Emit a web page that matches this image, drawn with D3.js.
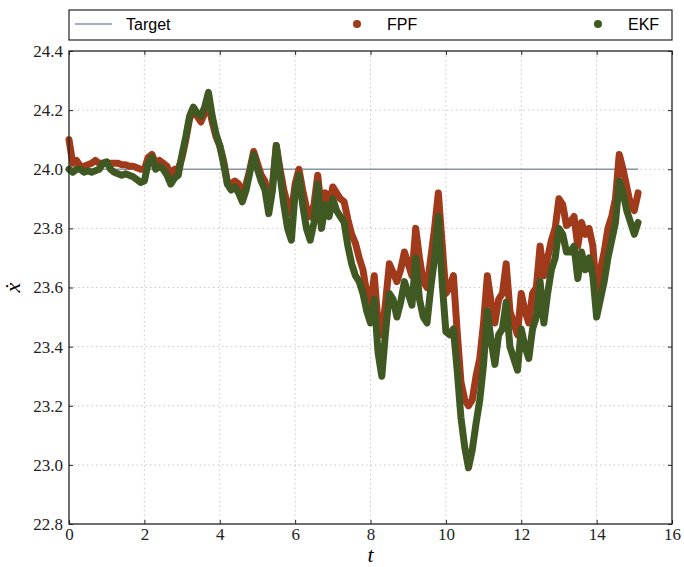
<!DOCTYPE html>
<html>
<head>
<meta charset="utf-8">
<script src="https://d3js.org/d3.v7.min.js"></script>
<style>
    body { margin: 0; background: #fff; }
    .tick text { font-family: "Liberation Serif", serif; font-size: 17px; fill: #222; }
    .legend text { font-family: "Liberation Sans", Arial, sans-serif; font-size: 16px; fill: #000; }
</style>
</head>
<body>
<script>
// Time grid of the samples (read every 0.1 s from the picture)
var times = d3.range(0, 152).map(function(i) { return +(i * 0.1).toFixed(1); });

var fpfValues = [
    24.10, 24.02, 24.03, 24.01, 24.01, 24.015, 24.02, 24.03, 24.02, 24.02,
    24.02, 24.02, 24.02, 24.02, 24.015, 24.015, 24.01, 24.01, 24.005, 24.00,
    24.00, 24.04, 24.05, 24.02, 24.03, 24.02, 24.01, 23.98, 24.00, 24.00,
    24.04, 24.10, 24.17, 24.20, 24.18, 24.16, 24.19, 24.22, 24.16, 24.11,
    24.08, 24.03, 23.96, 23.95, 23.96, 23.95, 23.92, 23.95, 24.00, 24.06,
    24.02, 23.98, 23.96, 23.88, 23.95, 24.08, 24.00, 23.93, 23.88, 23.85,
    23.95, 24.00, 23.93, 23.87, 23.84, 23.88, 23.98, 23.86, 23.92, 23.88,
    23.94, 23.92, 23.90, 23.89, 23.83, 23.78, 23.75, 23.70, 23.66, 23.58,
    23.54, 23.64, 23.48, 23.44, 23.55, 23.68, 23.65, 23.62, 23.66, 23.72,
    23.68, 23.64, 23.80, 23.70, 23.62, 23.60, 23.70, 23.80, 23.92, 23.75,
    23.58, 23.60, 23.64, 23.45, 23.28, 23.22, 23.20, 23.22, 23.30, 23.36,
    23.48, 23.64, 23.55, 23.48, 23.56, 23.58, 23.68, 23.52, 23.48, 23.44,
    23.58, 23.52, 23.48, 23.58, 23.60, 23.74, 23.64, 23.70, 23.76, 23.80,
    23.90, 23.88, 23.81, 23.82, 23.84, 23.74, 23.82, 23.78, 23.80, 23.74,
    23.58, 23.66, 23.72, 23.80, 23.84, 23.90, 24.05, 24.00, 23.94, 23.88,
    23.86, 23.92
];

var ekfValues = [
    24.00, 23.99, 24.00, 24.00, 23.99, 23.995, 23.99, 23.995, 24.00, 24.02,
    24.025, 24.00, 23.99, 23.985, 23.98, 23.985, 23.98, 23.975, 23.965, 23.955,
    23.96, 24.02, 24.04, 24.00, 24.01, 24.00, 23.98, 23.95, 23.97, 23.98,
    24.05, 24.11, 24.18, 24.21, 24.19, 24.18, 24.21, 24.26, 24.18, 24.12,
    24.08, 24.02, 23.95, 23.93, 23.94, 23.92, 23.89, 23.93, 23.99, 24.05,
    24.00, 23.96, 23.93, 23.85, 23.93, 24.08, 23.98, 23.88, 23.80, 23.76,
    23.92, 23.98, 23.88, 23.80, 23.76, 23.82, 23.95, 23.80, 23.88, 23.84,
    23.90, 23.86, 23.84, 23.82, 23.74, 23.68, 23.64, 23.62, 23.58, 23.52,
    23.48, 23.56, 23.38, 23.30, 23.45, 23.58, 23.56, 23.50, 23.55, 23.62,
    23.58, 23.54, 23.70, 23.56, 23.50, 23.48, 23.60, 23.70, 23.84, 23.62,
    23.45, 23.44, 23.46, 23.32, 23.16, 23.06, 22.99, 23.05, 23.14, 23.22,
    23.34, 23.52, 23.42, 23.34, 23.44, 23.46, 23.55, 23.40, 23.36, 23.32,
    23.46, 23.40, 23.36, 23.46, 23.50, 23.62, 23.48, 23.58, 23.66, 23.70,
    23.80, 23.78, 23.72, 23.72, 23.74, 23.63, 23.72, 23.66, 23.70, 23.64,
    23.50, 23.56, 23.62, 23.70, 23.76, 23.82, 23.96, 23.92, 23.86, 23.82,
    23.78, 23.82
];

var targetValue = 24.0;
var xTicks = [0, 2, 4, 6, 8, 10, 12, 14, 16];
var yTicks = [22.8, 23.0, 23.2, 23.4, 23.6, 23.8, 24.0, 24.2, 24.4];
var seriesNames = ["Target", "FPF", "EKF"];

var colors = {Target: "#8695a8", FPF: "#a13a1b", EKF: "#405923"};

var margin = {top: 51, right: 12, bottom: 43, left: 69},
    width = 684 - margin.left - margin.right,
    height = 567 - margin.top - margin.bottom;

var svg = d3.select("body")
    .append("svg")
    .attr("width", 684)
    .attr("height", 567);

var chart = svg.append("g")
    .attr("transform", "translate(" + margin.left + "," + margin.top + ")");

var xScale = d3.scaleLinear().domain([0, 16]).range([0, width]);
var yScale = d3.scaleLinear().domain([22.8, 24.4]).range([height, 0]);

// Dotted grid
chart.append("g")
    .selectAll("line")
    .data(xTicks.slice(1, -1))
    .enter().append("line")
    .attr("x1", function(d) { return xScale(d); })
    .attr("x2", function(d) { return xScale(d); })
    .attr("y1", 0)
    .attr("y2", height)
    .style("stroke", "#c8c8c8")
    .style("stroke-dasharray", "1.5,3");

chart.append("g")
    .selectAll("line")
    .data(yTicks.slice(1, -1))
    .enter().append("line")
    .attr("x1", 0)
    .attr("x2", width)
    .attr("y1", function(d) { return yScale(d); })
    .attr("y2", function(d) { return yScale(d); })
    .style("stroke", "#c8c8c8")
    .style("stroke-dasharray", "1.5,3");

// Axes, ticks pointing inward
var xAxis = d3.axisBottom(xScale).tickValues(xTicks).tickSize(-4).tickPadding(4)
    .tickFormat(d3.format("d"));
var yAxis = d3.axisLeft(yScale).tickValues(yTicks).tickSize(-4).tickPadding(6)
    .tickFormat(d3.format(".1f"));

chart.append("g")
    .attr("class", "x axis")
    .attr("transform", "translate(0," + height + ")")
    .call(xAxis)
    .call(function(g) { g.select(".domain").remove(); });

chart.append("g")
    .attr("class", "y axis")
    .call(yAxis)
    .call(function(g) { g.select(".domain").remove(); });

chart.append("g")
    .attr("transform", "translate(0,0)")
    .call(d3.axisTop(xScale).tickValues(xTicks).tickSize(-4).tickFormat(""))
    .call(function(g) { g.select(".domain").remove(); });

chart.append("g")
    .attr("transform", "translate(" + width + ",0)")
    .call(d3.axisRight(yScale).tickValues(yTicks).tickSize(-4).tickFormat(""))
    .call(function(g) { g.select(".domain").remove(); });

chart.selectAll(".tick line").style("stroke", "#222");

// Target line
chart.append("line")
    .attr("x1", xScale(times[0]))
    .attr("x2", xScale(times[times.length - 1]))
    .attr("y1", yScale(targetValue))
    .attr("y2", yScale(targetValue))
    .style("stroke", colors.Target)
    .style("stroke-width", 1.5);

// Estimates drawn as thick bands
var line = d3.line()
    .x(function(d, i) { return xScale(times[i]); })
    .y(function(d) { return yScale(d); });

[["FPF", fpfValues], ["EKF", ekfValues]].forEach(function(s) {
    chart.append("path")
        .datum(s[1])
        .attr("d", line)
        .style("fill", "none")
        .style("stroke", colors[s[0]])
        .style("stroke-width", 7)
        .style("stroke-linejoin", "round")
        .style("stroke-linecap", "round");
});

// Frame
chart.append("rect")
    .attr("width", width)
    .attr("height", height)
    .style("fill", "none")
    .style("stroke", "#222")
    .style("stroke-width", 1.3);

// Axis labels
svg.append("text")
    .attr("x", margin.left + width / 2)
    .attr("y", 562)
    .attr("text-anchor", "middle")
    .style("font-family", "Liberation Serif, serif")
    .style("font-style", "italic")
    .style("font-size", "22px")
    .text("t");

svg.append("text")
    .attr("transform", "translate(20," + (margin.top + height / 2) + ") rotate(-90)")
    .attr("text-anchor", "middle")
    .style("font-family", "Liberation Serif, serif")
    .style("font-style", "italic")
    .style("font-size", "22px")
    .text("x\u0307");

// Legend
var legend = svg.append("g").attr("class", "legend");

legend.append("rect")
    .attr("x", margin.left)
    .attr("y", 10)
    .attr("width", width)
    .attr("height", 30)
    .style("fill", "#fff")
    .style("stroke", "#222")
    .style("stroke-width", 1.2);

var legendX = {Target: 75, FPF: 357, EKF: 598};

legend.append("line")
    .attr("x1", legendX.Target)
    .attr("x2", legendX.Target + 37)
    .attr("y1", 24)
    .attr("y2", 24)
    .style("stroke", colors.Target)
    .style("stroke-width", 1.5);

legend.selectAll("circle")
    .data(seriesNames.slice(1))
    .enter().append("circle")
    .attr("cx", function(d) { return legendX[d]; })
    .attr("cy", 24)
    .attr("r", 4)
    .style("fill", function(d) { return colors[d]; });

legend.selectAll("text")
    .data(seriesNames)
    .enter().append("text")
    .attr("x", function(d) { return d == "Target" ? 126 : legendX[d] + 30; })
    .attr("y", 30)
    .text(function(d) { return d; });
</script>
</body>
</html>
